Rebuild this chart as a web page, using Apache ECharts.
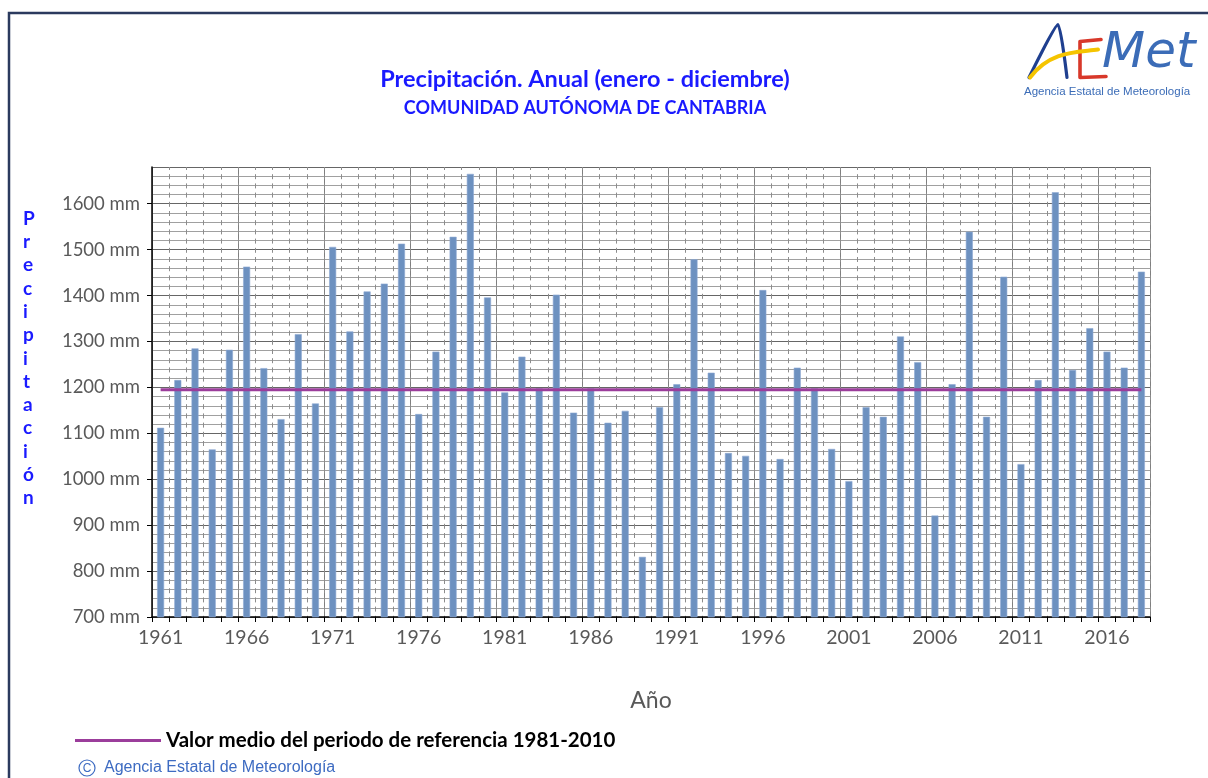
<!DOCTYPE html>
<html>
<head>
<meta charset="utf-8">
<script src="https://cdn.jsdelivr.net/npm/echarts@6/dist/echarts.min.js"></script>
<style>
  html, body { margin: 0; padding: 0; background: #ffffff; }
  #chart { width: 1208px; height: 778px; }
</style>
</head>
<body>
<div id="chart"></div>
<script>
// Annual precipitation, Comunidad Autónoma de Cantabria (mm)
const years = [
  1961, 1962, 1963, 1964, 1965, 1966, 1967, 1968, 1969, 1970,
  1971, 1972, 1973, 1974, 1975, 1976, 1977, 1978, 1979, 1980,
  1981, 1982, 1983, 1984, 1985, 1986, 1987, 1988, 1989, 1990,
  1991, 1992, 1993, 1994, 1995, 1996, 1997, 1998, 1999, 2000,
  2001, 2002, 2003, 2004, 2005, 2006, 2007, 2008, 2009, 2010,
  2011, 2012, 2013, 2014, 2015, 2016, 2017, 2018
];
const precipitation = [
  1112, 1216, 1285, 1065, 1282, 1463, 1242, 1131, 1316, 1165,
  1506, 1322, 1409, 1426, 1513, 1142, 1278, 1528, 1665, 1396,
  1189, 1267, 1198, 1402, 1145, 1198, 1123, 1149, 831, 1157,
  1207, 1479, 1232, 1057, 1051, 1412, 1044, 1243, 1198, 1066,
  996, 1157, 1136, 1311, 1255, 921, 1207, 1539, 1136, 1441,
  1033, 1216, 1625, 1238, 1329, 1278, 1243, 1452
];
// Mean of the 1981-2010 reference period (mm)
const referenceMean = 1195;
const referenceLabel = 'Valor medio del periodo de referencia 1981-2010';
const yMin = 700;
const yMax = 1680;
const yStep = 100;

const categories = years.map(String);
const meanLine = categories.map(() => referenceMean);

const chart = echarts.init(document.getElementById('chart'), null, { renderer: 'canvas' });

const FONT = 'Lato, "Open Sans", sans-serif';
const LABEL_GREY = '#595959';
const TITLE_BLUE = '#1a1aff';

// Vertical letters of the y-axis title
const yTitle = 'Precipitación'.split('').join('\n');

chart.setOption({
  backgroundColor: '#ffffff',
  animation: false,
  title: [
    {
      text: 'Precipitación. Anual (enero - diciembre)',
      left: 580, top: 62, textAlign: 'center',
      textStyle: { color: TITLE_BLUE, fontFamily: FONT, fontSize: 23.5, fontWeight: 'bold' }
    },
    {
      text: 'COMUNIDAD AUTÓNOMA DE CANTABRIA',
      left: 580, top: 94, textAlign: 'center',
      textStyle: { color: TITLE_BLUE, fontFamily: FONT, fontSize: 18, fontWeight: 'bold' }
    }
  ],
  legend: {
    data: [{ name: referenceLabel, icon: 'rect' }],
    left: 70, top: 725,
    itemWidth: 86, itemHeight: 3, itemGap: 8,
    textStyle: { color: '#000000', fontFamily: FONT, fontSize: 20.5, fontWeight: 'bold' },
    selectedMode: false
  },
  grid: { left: 152, right: 58, top: 167, bottom: 161, containLabel: false },
  xAxis: [
    {
      type: 'category',
      data: categories,
      boundaryGap: true,
      name: 'Año',
      nameLocation: 'middle',
      nameGap: 72,
      nameTextStyle: { color: LABEL_GREY, fontFamily: FONT, fontSize: 23 },
      axisLine: { show: true, lineStyle: { color: '#000000', width: 1.5 } },
      axisTick: { show: true, alignWithLabel: false, interval: 0, length: 5, inside: false,
                  lineStyle: { color: '#000000' } },
      axisLabel: { interval: 4, color: LABEL_GREY, fontFamily: FONT, fontSize: 19.5, margin: 11 },
      splitLine: {
        show: true,
        interval: (index) => index % 5 === 0,
        lineStyle: { color: '#7f7f7f', width: 1 }
      }
    },
    {
      // Dashed boundary lines between every pair of years
      type: 'category',
      data: categories,
      boundaryGap: true,
      position: 'bottom',
      axisLine: { show: false },
      axisTick: { show: false },
      axisLabel: { show: false },
      splitLine: {
        show: true,
        interval: 0,
        lineStyle: { color: '#8c8c8c', width: 1, type: [5, 4.2], dashOffset: 2 }
      }
    }
  ],
  yAxis: {
    type: 'value',
    min: yMin, max: yMax, interval: yStep,
    axisLine: { show: true, lineStyle: { color: '#000000', width: 1.5 } },
    axisTick: { show: true, length: 5, lineStyle: { color: '#000000' } },
    axisLabel: {
      color: LABEL_GREY, fontFamily: FONT, fontSize: 18.5, margin: 12,
      showMaxLabel: false,
      formatter: (v) => v + ' mm'
    },
    splitLine: { show: true, lineStyle: { color: '#666666', width: 1 } },
    minorTick: { show: false, splitNumber: 5 },
    minorSplitLine: { show: true, lineStyle: { color: '#a0a0a0', width: 1 } }
  },
  series: [
    {
      name: 'Precipitación',
      type: 'bar',
      xAxisIndex: 0,
      data: precipitation,
      barWidth: 7,
      itemStyle: { color: '#6d91c0', borderColor: '#8eaad3', borderWidth: 0.6 },
      z: 3
    },
    {
      name: referenceLabel,
      type: 'line',
      xAxisIndex: 0,
      data: meanLine,
      symbol: 'none',
      lineStyle: { color: '#9b3d9b', width: 3 },
      itemStyle: { color: '#9b3d9b' },
      z: 4
    }
  ],
  graphic: [
    // outer frame (top and left edges)
    {
      type: 'polyline',
      shape: { points: [[9, 778], [9, 13], [1208, 13]] },
      style: { stroke: '#2b3a5e', lineWidth: 2.5, fill: null },
      silent: true
    },
    // vertical y-axis title
    {
      type: 'text',
      left: 23, top: 207,
      style: {
        text: yTitle,
        fill: TITLE_BLUE,
        font: 'bold 19px ' + FONT,
        lineHeight: 23.3,
        align: 'center',
        width: 16
      }
    },
    // AEMET logo
    {
      type: 'group',
      left: 1024, top: 22,
      children: [
        {
          type: 'polyline',
          shape: { points: [[7, 57], [36, 4], [45, 57]], smooth: 0.15 },
          style: { stroke: '#1f3f8f', lineWidth: 3.2, fill: null, lineCap: 'round' }
        },
        {
          type: 'polyline',
          shape: { points: [[79, 19], [58, 21], [58, 57], [84, 56]] },
          style: { stroke: '#d8382a', lineWidth: 3.6, fill: null, lineCap: 'round', lineJoin: 'round' }
        },
        {
          type: 'bezierCurve',
          shape: { x1: 8, y1: 57, cpx1: 28, cpy1: 30, cpx2: 55, cpy2: 32, x2: 76, y2: 29 },
          style: { stroke: '#f5c400', lineWidth: 4, fill: null, lineCap: 'round' }
        },
        {
          type: 'text',
          left: 80, top: 9,
          style: {
            text: 'Met',
            fill: '#3b6cb7',
            font: 'italic 50px "DejaVu Sans", sans-serif'
          }
        },
        {
          type: 'text',
          left: 2, top: 65,
          style: {
            text: 'Agencia Estatal de Meteorología',
            fill: '#3b6cb7',
            font: '11.5px "Liberation Sans Narrow", "Liberation Sans", sans-serif'
          }
        }
      ]
    },
    // copyright line: circled C mark and agency name
    {
      type: 'circle',
      shape: { cx: 87, cy: 768, r: 8 },
      style: { stroke: '#3d6bc2', lineWidth: 1.2, fill: null }
    },
    {
      type: 'text',
      x: 87, y: 768.5,
      style: {
        text: 'C',
        fill: '#3d6bc2',
        font: '12px "Liberation Sans", Arial, sans-serif',
        align: 'center',
        verticalAlign: 'middle'
      }
    },
    {
      type: 'text',
      left: 104, top: 760,
      style: {
        text: 'Agencia Estatal de Meteorología',
        fill: '#3d6bc2',
        font: '16px "Liberation Sans", Arial, sans-serif'
      }
    }
  ]
});
</script>
</body>
</html>
